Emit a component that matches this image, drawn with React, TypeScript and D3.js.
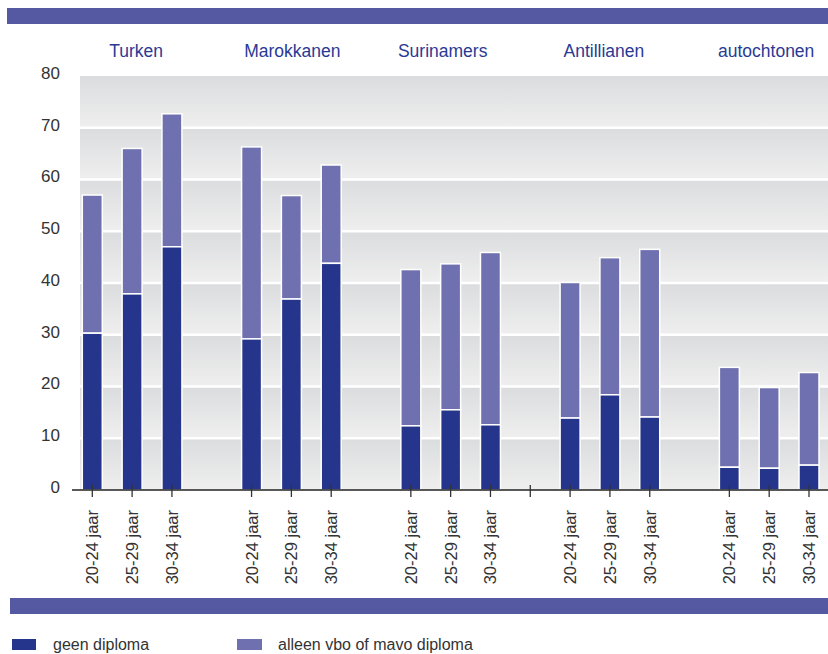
import React from "react";
import * as d3 from "d3";

const groups = ["Turken", "Marokkanen", "Surinamers", "Antillianen", "autochtonen"];
const ages = ["20-24 jaar", "25-29 jaar", "30-34 jaar"];
const geenDiploma = [30.3, 37.9, 47.0, 29.2, 36.9, 43.8, 12.4, 15.5, 12.6, 13.9, 18.4, 14.1, 4.4, 4.2, 4.8];
const vboMavo = [26.7, 28.1, 25.7, 37.1, 20.0, 19.0, 30.2, 28.2, 33.3, 26.2, 26.5, 32.4, 19.3, 15.6, 17.9];
const yTicks = [0, 10, 20, 30, 40, 50, 60, 70, 80];
const extraTickSlots = [11];
const legendLabels = ["geen diploma", "alleen vbo of mavo diploma"];

const DARK = "#25358b";
const LIGHT = "#6f70b0";
const BAND = "#5559a1";
const TEXTBLUE = "#2a3a94";
const FONT = "'Liberation Sans', Arial, sans-serif";
const GROUP_LABEL_NUDGE = [4, 1, -8, -6, -3];

export default function App() {
  const W = 828, H = 654;
  const slots = d3.range(19);
  const x = d3.scalePoint<number>().domain(slots).range([92.3, 809]);
  const y = d3.scaleLinear().domain([0, 80]).range([490, 76]);
  const barW = 20;
  const plotLeft = 80;

  const rows = groups.flatMap((g, gi) =>
    ages.map((a, ai) => {
      const i = gi * 3 + ai;
      return { g, a, slot: gi * 4 + ai, dark: geenDiploma[i], light: vboMavo[i] };
    })
  );
  const tickSlots = Array.from(new Set([...rows.map((r) => r.slot), ...extraTickSlots])).sort((a, b) => a - b);

  return (
    <svg width={W} height={H} style={{ position: "absolute", left: 0, top: 0, background: "#fff" }} fontFamily={FONT}>
      <defs>
        <linearGradient id="bandGrad" x1="0" y1="0" x2="0" y2="1">
          <stop offset="0" stopColor="#dbdcde" />
          <stop offset="1" stopColor="#efefef" />
        </linearGradient>
      </defs>
      {/* top band */}
      <rect x={7} y={8} width={W - 7} height={16} fill={BAND} />
      {/* background bands */}
      {yTicks.slice(0, -1).map((v) => (
        <rect key={"b" + v} x={plotLeft} y={y(v + 10)} width={W - plotLeft} height={y(v) - y(v + 10)} fill="url(#bandGrad)" />
      ))}
      {yTicks.slice(1, -1).map((v) => (
        <line key={"g" + v} x1={plotLeft} x2={W} y1={y(v)} y2={y(v)} stroke="#fff" strokeWidth={2.5} />
      ))}
      {/* bars */}
      {rows.map((r) => {
        const cx = x(r.slot)!;
        return (
          <g key={r.g + r.a}>
            <rect x={cx - barW / 2} y={y(r.dark + r.light)} width={barW} height={y(0) - y(r.light)} fill={LIGHT} stroke="#fff" strokeWidth={1.5} />
            <rect x={cx - barW / 2} y={y(r.dark)} width={barW} height={y(0) - y(r.dark)} fill={DARK} stroke="#fff" strokeWidth={1.5} />
          </g>
        );
      })}
      {/* axis */}
      <line x1={72} x2={W} y1={y(0)} y2={y(0)} stroke="#222" strokeWidth={1.5} />
      {tickSlots.map((s) => (
        <line key={"t" + s} x1={x(s)} x2={x(s)} y1={485} y2={497} stroke="#333" strokeWidth={1.3} />
      ))}
      {/* y labels */}
      {yTicks.map((v) => (
        <text key={"yl" + v} x={60} y={y(v) - 3} dy="0.35em" textAnchor="end" fontSize={17} fill="#333">
          {v}
        </text>
      ))}
      {/* x labels */}
      {rows.map((r) => (
        <text
          key={"xl" + r.g + r.a}
          transform={`translate(${x(r.slot)! + 6},510) rotate(-90)`}
          textAnchor="end"
          fontSize={16.5}
          fill="#333"
        >
          {r.a}
        </text>
      ))}
      {/* group labels */}
      {groups.map((g, gi) => (
        <text key={"gl" + g} x={x(gi * 4 + 1)! + GROUP_LABEL_NUDGE[gi]} y={57} textAnchor="middle" fontSize={17.5} fill={TEXTBLUE}>
          {g}
        </text>
      ))}
      {/* bottom band */}
      <rect x={10} y={598} width={W - 10} height={16} fill={BAND} />
      {/* legend */}
      <rect x={12} y={639} width={24} height={11} fill={DARK} />
      <text x={53} y={650} fontSize={16} fill="#333">{legendLabels[0]}</text>
      <rect x={237} y={639} width={25} height={11} fill={LIGHT} />
      <text x={278} y={650} fontSize={16} fill="#333">{legendLabels[1]}</text>
    </svg>
  );
}
